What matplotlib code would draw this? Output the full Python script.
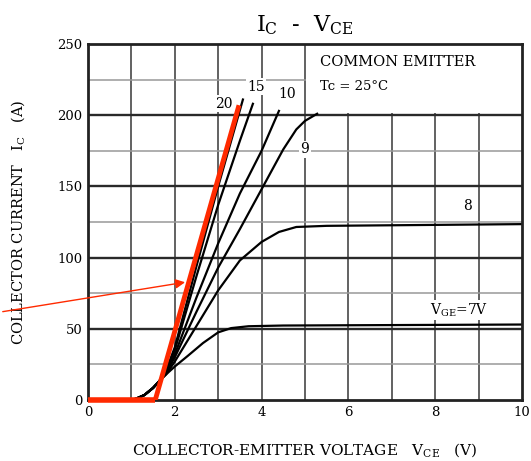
import matplotlib.pyplot as plt
from matplotlib.patches import Rectangle

plt.rcParams["font.family"] = ["DejaVu Serif"]
plt.rcParams["mathtext.default"] = "regular"

# shared turn-on knee of every curve (V, A)
knee_v = [0.0, 0.95, 1.1, 1.3, 1.5, 1.65]
knee_i = [0.0, 0.0, 0.8, 3.5, 8.5, 13.5]

# VGE curves
v20 = [1.8, 2.0, 2.5, 3.0, 3.57]
i20 = [21, 37, 94, 150, 211]
v15 = [1.8, 2.0, 2.5, 3.0, 3.5, 3.8]
i15 = [21, 35, 87, 137, 182, 208]
v10 = [1.8, 2.0, 2.5, 3.0, 3.5, 4.0, 4.4]
i10 = [20, 32, 72, 110, 145, 175, 203]
v9 = [1.8, 2.0, 2.5, 3.0, 3.5, 4.0, 4.5, 4.8, 5.0, 5.28]
i9 = [19, 30, 62, 93, 120, 148, 176, 190, 196, 201]
v8 = [1.8, 2.0, 2.5, 3.0, 3.5, 4.0, 4.4, 4.8, 5.5, 10.0]
i8 = [18, 27, 52, 77, 98, 111, 118, 121.5, 122.3, 123.5]
v7 = [1.8, 2.0, 2.3, 2.65, 3.0, 3.3, 3.7, 4.5, 10.0]
i7 = [18, 23.5, 31, 40, 47.5, 50.5, 51.8, 52.3, 53]

curves = [(v20, i20), (v15, i15), (v10, i10), (v9, i9), (v8, i8), (v7, i7)]

# curve labels: text, V, I
labels = ["20", "15", "10", "9", "8", "$V_{GE}$=7V"]
label_v = [3.13, 3.87, 4.58, 5.0, 8.75, 8.53]
label_i = [208, 220, 215, 176, 136, 63]

# red overlay (hand-drawn fit)
red_v = [0.0, 1.55]
red_i = [0, 0]
red2_v = [1.55, 3.48]
red2_i = [0, 207]
arrow_tip = (2.3, 83)

fig = plt.figure(figsize=(5.31, 4.61), dpi=100)
ax = fig.add_axes([0.1657, 0.1323, 0.8173, 0.7723])

ax.set_xlim(0, 10)
ax.set_ylim(0, 250)
ax.set_xticks(range(0, 11, 2))
ax.set_yticks(range(0, 251, 50))
ax.tick_params(length=0, labelsize=9.5, pad=4)

# grid
for x in range(1, 10):
    ax.axvline(x, color="#555555", lw=1.3, zorder=1)
for y in range(25, 250, 25):
    if y % 50 == 0:
        ax.axhline(y, color="#2a2a2a", lw=1.7, zorder=1)
    else:
        ax.axhline(y, color="#999999", lw=1.1, zorder=1)

# blank box for the conditions text
ax.add_patch(Rectangle((5.03, 201.8), 5, 50, facecolor="white",
                       edgecolor="none", zorder=2))
ax.text(5.35, 237, "COMMON EMITTER", fontsize=10.5, va="center", zorder=3)
ax.text(5.35, 220, "Tc = 25°C", fontsize=9.5, va="center", zorder=3)

for v, i in curves:
    ax.plot(knee_v + v, knee_i + i, color="black", lw=1.6, zorder=4)

for t, x, y in zip(labels, label_v, label_i):
    ax.text(x, y, t, fontsize=10, ha="center", va="center", zorder=3,
            bbox=dict(facecolor="white", edgecolor="none", pad=1))

ax.plot(red_v, red_i, color="#ff2a00", lw=4, zorder=6, clip_on=False,
        solid_capstyle="butt")
ax.plot(red2_v, red2_i, color="#ff2a00", lw=3.5, zorder=6,
        solid_capstyle="butt")
ax.annotate("", xy=arrow_tip, xycoords="data",
            xytext=(0.0, 0.323), textcoords="figure fraction",
            arrowprops=dict(arrowstyle="-|>", color="#ff2a00", lw=1.0,
                            mutation_scale=14),
            zorder=7, annotation_clip=False)

for s in ax.spines.values():
    s.set_linewidth(2)
    s.set_color("#222222")
    s.set_zorder(5)

ax.set_title("$I_C$  -  $V_{CE}$", fontsize=16, pad=9)
ax.set_xlabel("COLLECTOR-EMITTER VOLTAGE   $V_{CE}$   (V)", fontsize=11)
ax.set_ylabel("COLLECTOR CURRENT   $I_C$   (A)", fontsize=10.5)
ax.xaxis.set_label_coords(0.5, -0.115)
ax.yaxis.set_label_coords(-0.14, 0.5)

fig.savefig("out.png", dpi=100)
